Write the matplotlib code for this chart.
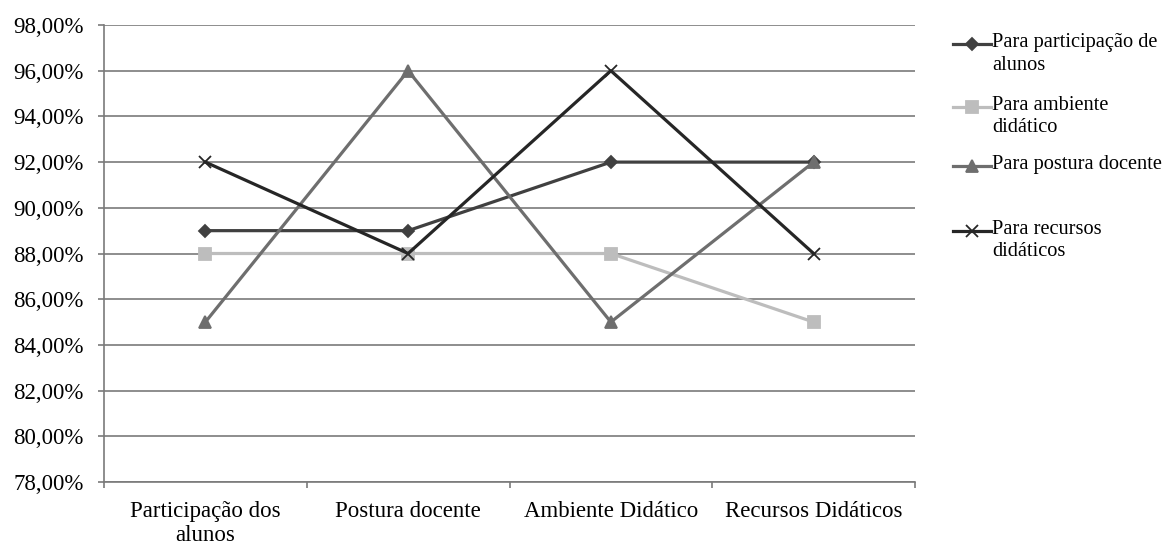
import matplotlib
matplotlib.use("Agg")
import matplotlib.pyplot as plt
from matplotlib.lines import Line2D
from matplotlib.ticker import FuncFormatter, MultipleLocator

plt.rcParams['font.family'] = ['Liberation Serif', 'DejaVu Serif']

categories = ["Participação dos\nalunos", "Postura docente", "Ambiente Didático", "Recursos Didáticos"]
participacao = [89, 89, 92, 92]
ambiente = [88, 88, 88, 85]
postura = [85, 96, 85, 92]
recursos = [92, 88, 96, 88]

series = [
    ("Para participação de\nalunos", participacao, "#404040", "D", 6),
    ("Para ambiente\ndidático", ambiente, "#bdbdbd", "s", 8),
    ("Para postura docente", postura, "#6e6e6e", "^", 8),
    ("Para recursos\ndidáticos", recursos, "#262626", "x", 9),
]

W, H = 1163, 544
fig = plt.figure(figsize=(W / 100, H / 100), dpi=100)
ax = fig.add_axes([104 / W, 1 - 482 / H, (915 - 104) / W, (482 - 25) / H])

x = list(range(len(categories)))
for label, vals, color, marker, ms in series:
    ax.plot(x, vals, color=color, lw=2.3, marker=marker, ms=ms,
            markerfacecolor=color, markeredgecolor=color, mew=1.3,
            zorder=3)

ax.set_xlim(-0.5, len(categories) - 0.5)
ax.set_ylim(78, 98)
ax.yaxis.set_major_locator(MultipleLocator(2))
ax.yaxis.set_major_formatter(FuncFormatter(lambda v, p: f"{v:.2f}".replace(".", ",") + "%"))
ax.grid(axis="y", color="#7a7a7a", lw=1.2, zorder=1)
ax.set_axisbelow(True)

ax.set_xticks(x)
ax.set_xticklabels(categories, fontsize=16.5)
ax.tick_params(axis="x", length=0, pad=13.5)
ax.set_xticks([i - 0.5 for i in range(len(categories) + 1)], minor=True)
ax.tick_params(axis="x", which="minor", length=4.5, width=1.2, color="#7a7a7a")
ax.tick_params(axis="y", length=4.5, width=1.2, color="#7a7a7a", labelsize=16.5, pad=10)

for s in ["top", "right"]:
    ax.spines[s].set_visible(False)
for s in ["left", "bottom"]:
    ax.spines[s].set_color("#7a7a7a")
    ax.spines[s].set_linewidth(1.2)

# legend drawn beside the plot
legend_y = [44, 107, 166, 231]
for (label, vals, color, marker, ms), yy in zip(series, legend_y):
    yf = 1 - yy / H
    fig.add_artist(Line2D([953 / W, 991 / W], [yf, yf], color=color, lw=2.3,
                          transform=fig.transFigure))
    fig.add_artist(Line2D([972 / W], [yf], color=color, marker=marker, ms=ms,
                          markerfacecolor=color, markeredgecolor=color, mew=1.3,
                          transform=fig.transFigure))
    fig.text(992 / W, 1 - (yy - 11) / H, label, fontsize=14.7, va="top", ha="left",
             linespacing=1.25)

fig.savefig("out.png", dpi=100, facecolor="white")
